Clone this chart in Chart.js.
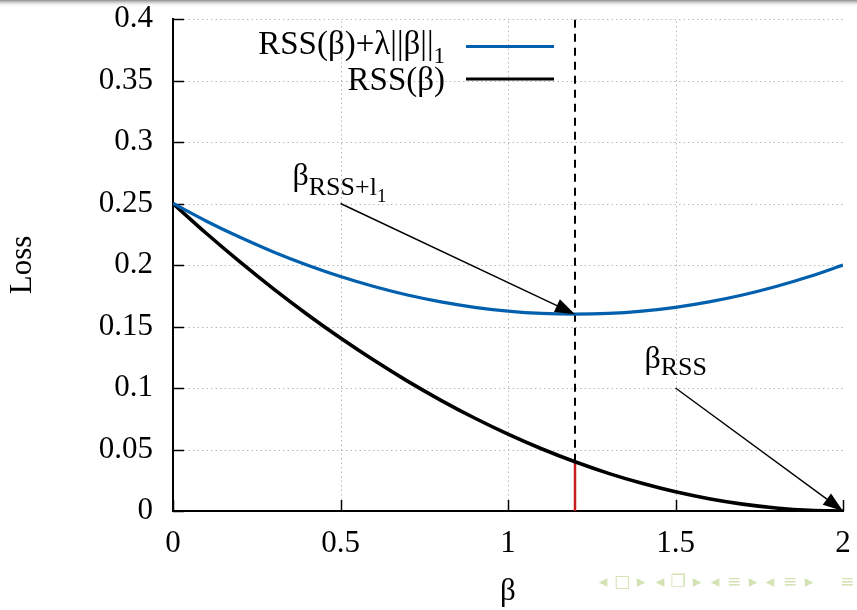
<!DOCTYPE html>
<html lang="en">
<head>
    <meta charset="UTF-8">
    <title>Loss vs beta</title>
    <script src="https://cdn.jsdelivr.net/npm/chart.js"></script>
    <style>
        body { margin: 0; background: #fff; }
        canvas { display: block; }
    </style>
</head>
<body>
    <canvas id="lossChart" width="857" height="610"></canvas>

    <script>
        // values
        const betaValues = [0, 0.1, 0.2, 0.3, 0.4, 0.5, 0.6, 0.7, 0.8, 0.9, 1.0,
                            1.1, 1.2, 1.3, 1.4, 1.5, 1.6, 1.7, 1.8, 1.9, 2.0];
        const rssValues = [0.25, 0.2256, 0.2025, 0.1806, 0.16, 0.1406, 0.1225, 0.1056, 0.09, 0.0756, 0.0625,
                           0.0506, 0.04, 0.0306, 0.0225, 0.0156, 0.01, 0.0056, 0.0025, 0.0006, 0];
        const penalizedValues = [0.25, 0.2356, 0.2225, 0.2106, 0.2, 0.1906, 0.1825, 0.1756, 0.17, 0.1656, 0.1625,
                                 0.1606, 0.16, 0.1606, 0.1625, 0.1656, 0.17, 0.1756, 0.1825, 0.1906, 0.2];

        const xTickValues = [0, 0.5, 1, 1.5, 2];
        const yTickValues = [0, 0.05, 0.1, 0.15, 0.2, 0.25, 0.3, 0.35, 0.4];

        // vertical markers at the penalised minimum
        const markerBeta = [1.2, 1.2];
        const dashedLoss = [0.04, 0.4];
        const redLoss = [0, 0.04];

        // arrows: [beta, loss] start and end
        const arrowFrom = [[0.5, 0.25], [1.5, 0.1]];
        const arrowTo = [[1.2, 0.16], [2, 0]];

        const SERIF = "'Liberation Serif', 'Times New Roman', serif";
        const BLUE = '#0060ad';

        function pts(xs, ys) {
            return xs.map((x, i) => ({ x: x, y: ys[i] }));
        }

        // draw text runs (main text, subscripts) left to right
        function textRuns(ctx, x, y, runs, align) {
            let w = 0;
            runs.forEach(r => {
                ctx.font = r.size + 'px ' + SERIF;
                r.w = ctx.measureText(r.t).width;
                w += r.w;
            });
            let cx = align === 'right' ? x - w : x;
            ctx.textAlign = 'left';
            ctx.textBaseline = 'alphabetic';
            runs.forEach(r => {
                ctx.font = r.size + 'px ' + SERIF;
                ctx.fillText(r.t, cx, y + r.dy);
                cx += r.w;
            });
        }

        function arrow(ctx, x1, y1, x2, y2) {
            const ang = Math.atan2(y2 - y1, x2 - x1);
            const len = 20, half = 7;
            const bx = x2 - len * Math.cos(ang), by = y2 - len * Math.sin(ang);
            ctx.beginPath();
            ctx.moveTo(x1, y1);
            ctx.lineTo(bx, by);
            ctx.lineWidth = 1.4;
            ctx.strokeStyle = '#000';
            ctx.stroke();
            ctx.beginPath();
            ctx.moveTo(x2, y2);
            ctx.lineTo(bx - half * Math.sin(ang), by + half * Math.cos(ang));
            ctx.lineTo(bx + half * Math.sin(ang), by - half * Math.cos(ang));
            ctx.closePath();
            ctx.fillStyle = '#000';
            ctx.fill();
        }

        const decor = {
            id: 'decor',
            beforeDraw(chart) {
                const ctx = chart.ctx;
                ctx.save();
                ctx.fillStyle = '#fff';
                ctx.fillRect(0, 0, chart.width, chart.height);
                const g = ctx.createLinearGradient(0, 0, 0, 7);
                g.addColorStop(0, '#8c8c8c');
                g.addColorStop(1, 'rgba(255,255,255,0)');
                ctx.fillStyle = g;
                ctx.fillRect(0, 0, chart.width, 7);
                ctx.restore();
            },
            beforeDatasetsDraw(chart) {
                const ctx = chart.ctx;
                const a = chart.chartArea;
                const xs = chart.scales.x, ys = chart.scales.y;
                const tick = 11;
                ctx.save();
                // dotted grid
                ctx.strokeStyle = '#b8b8b8';
                ctx.lineWidth = 1;
                ctx.setLineDash([1.5, 3]);
                xTickValues.forEach(v => {
                    if (v === 0 || v === 2) return;
                    const px = Math.round(xs.getPixelForValue(v)) + 0.5;
                    ctx.beginPath();
                    ctx.moveTo(px, a.bottom - tick);
                    ctx.lineTo(px, a.top);
                    ctx.stroke();
                });
                yTickValues.forEach(v => {
                    if (v === 0) return;
                    const py = Math.round(ys.getPixelForValue(v)) + 0.5;
                    ctx.beginPath();
                    ctx.moveTo(a.left + tick, py);
                    ctx.lineTo(a.right, py);
                    ctx.stroke();
                });
                // inward tick marks
                ctx.setLineDash([]);
                ctx.strokeStyle = '#000';
                ctx.lineWidth = 1.5;
                xTickValues.forEach(v => {
                    const px = Math.round(xs.getPixelForValue(v)) + 0.5;
                    ctx.beginPath();
                    ctx.moveTo(px, a.bottom);
                    ctx.lineTo(px, a.bottom - tick);
                    ctx.stroke();
                });
                yTickValues.forEach(v => {
                    const py = Math.round(ys.getPixelForValue(v)) + 0.5;
                    ctx.beginPath();
                    ctx.moveTo(a.left, py);
                    ctx.lineTo(a.left + tick, py);
                    ctx.stroke();
                });
                ctx.restore();
            },
            afterDatasetsDraw(chart) {
                const ctx = chart.ctx;
                const xs = chart.scales.x, ys = chart.scales.y;
                ctx.save();

                // arrows and their labels
                arrowFrom.forEach((f, i) => {
                    const x1 = xs.getPixelForValue(f[0]), y1 = ys.getPixelForValue(f[1]);
                    const x2 = xs.getPixelForValue(arrowTo[i][0]), y2 = ys.getPixelForValue(arrowTo[i][1]);
                    arrow(ctx, x1, y1, x2, y2);
                });
                ctx.fillStyle = '#000';
                const s1x = xs.getPixelForValue(arrowFrom[0][0]), s1y = ys.getPixelForValue(arrowFrom[0][1]);
                textRuns(ctx, s1x - 48, s1y - 19, [
                    { t: 'β', size: 32, dy: 0 },
                    { t: 'RSS+l', size: 26, dy: 10 },
                    { t: '1', size: 19, dy: 17 }
                ]);
                const s2x = xs.getPixelForValue(arrowFrom[1][0]), s2y = ys.getPixelForValue(arrowFrom[1][1]);
                textRuns(ctx, s2x - 31, s2y - 20, [
                    { t: 'β', size: 32, dy: 0 },
                    { t: 'RSS', size: 26, dy: 7 }
                ]);

                // legend
                const legend = [
                    { runs: [{ t: 'RSS(β)+λ||β||', size: 33, dy: 0 }, { t: '1', size: 23, dy: 9 }],
                      color: BLUE, base: 54, line: 46.5 },
                    { runs: [{ t: 'RSS(β)', size: 33, dy: 0 }],
                      color: '#000', base: 90, line: 79 }
                ];
                legend.forEach(l => {
                    ctx.fillStyle = '#000';
                    textRuns(ctx, 445, l.base, l.runs, 'right');
                    ctx.beginPath();
                    ctx.moveTo(466, l.line);
                    ctx.lineTo(554, l.line);
                    ctx.strokeStyle = l.color;
                    ctx.lineWidth = 3;
                    ctx.stroke();
                });

                // beamer navigation symbols
                ctx.fillStyle = '#d3e3b4';
                ctx.font = "17px 'DejaVu Sans'";
                ctx.textAlign = 'center';
                ctx.textBaseline = 'middle';
                const nav = [[603, '◂'], [622, '□'], [641, '▸'], [660, '◂'], [678, '❐'], [697, '▸'],
                             [715, '◂'], [734, '≡'], [753, '▸'], [770, '◂'], [790, '≡'], [809, '▸'], [847, '≡']];
                nav.forEach(n => ctx.fillText(n[1], n[0], 583));
                ctx.restore();
            }
        };

        new Chart(document.getElementById('lossChart'), {
            type: 'line',
            data: {
                datasets: [{
                    label: 'RSS(β)+λ||β||1',
                    data: pts(betaValues, penalizedValues),
                    borderColor: BLUE,
                    borderWidth: 3.2,
                    pointRadius: 0,
                    cubicInterpolationMode: 'monotone'
                }, {
                    label: 'RSS(β)',
                    data: pts(betaValues, rssValues),
                    borderColor: '#000',
                    borderWidth: 3.6,
                    pointRadius: 0,
                    cubicInterpolationMode: 'monotone'
                }, {
                    label: 'min',
                    data: pts(markerBeta, dashedLoss),
                    borderColor: '#000',
                    borderWidth: 2,
                    borderDash: [8, 6],
                    pointRadius: 0
                }, {
                    label: 'min loss',
                    data: pts(markerBeta, redLoss),
                    borderColor: '#c41e1e',
                    borderWidth: 2.5,
                    pointRadius: 0
                }]
            },
            options: {
                responsive: false,
                animation: false,
                layout: { padding: { top: 19, right: 14, left: 0, bottom: 0 } },
                plugins: {
                    legend: { display: false },
                    tooltip: { enabled: false }
                },
                scales: {
                    x: {
                        type: 'linear',
                        min: 0,
                        max: 2,
                        afterBuildTicks: s => { s.ticks = xTickValues.map(v => ({ value: v })); },
                        afterFit: s => { s.height = 99; s.paddingLeft = 0; s.paddingRight = 0; },
                        grid: { display: false, drawTicks: false },
                        border: { display: true, color: '#000', width: 2 },
                        ticks: {
                            color: '#000',
                            font: { family: SERIF, size: 31 },
                            padding: 14,
                            maxRotation: 0,
                            callback: v => String(v)
                        },
                        title: {
                            display: true,
                            text: 'β',
                            color: '#000',
                            font: { family: SERIF, size: 31 },
                            padding: 0
                        }
                    },
                    y: {
                        type: 'linear',
                        min: 0,
                        max: 0.4,
                        afterBuildTicks: s => { s.ticks = yTickValues.map(v => ({ value: v })); },
                        afterFit: s => { s.width = 173; s.paddingTop = 0; s.paddingBottom = 0; },
                        grid: { display: false, drawTicks: false },
                        border: { display: true, color: '#000', width: 2 },
                        ticks: {
                            color: '#000',
                            font: { family: SERIF, size: 31 },
                            padding: 20,
                            callback: v => String(v)
                        },
                        title: {
                            display: true,
                            text: 'Loss',
                            color: '#000',
                            font: { family: SERIF, size: 31 },
                            padding: 4
                        }
                    }
                }
            },
            plugins: [decor]
        });
    </script>
</body>
</html>
